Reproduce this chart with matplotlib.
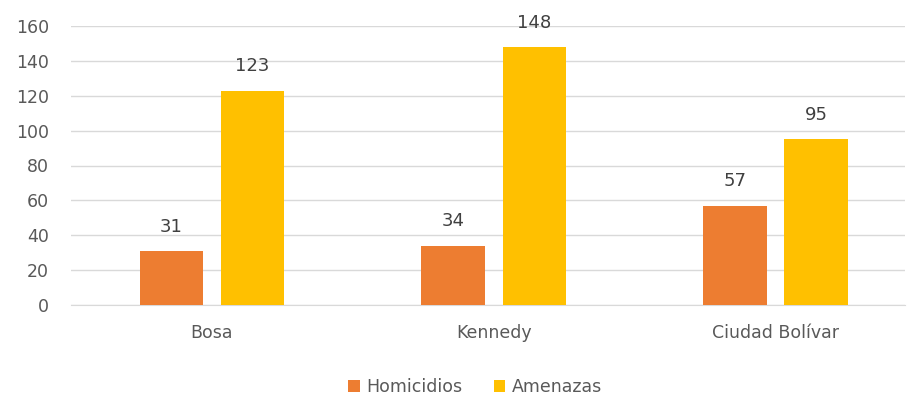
import matplotlib
matplotlib.use("Agg")
import matplotlib.pyplot as plt
import numpy as np

categories = ["Bosa", "Kennedy", "Ciudad Bolívar"]
homicidios = [31, 34, 57]
amenazas = [123, 148, 95]
yticks = [0, 20, 40, 60, 80, 100, 120, 140, 160]

plt.rcParams['font.family'] = ['DejaVu Sans']
txt = '#595959'

fig = plt.figure(figsize=(9.07, 4.20), dpi=100)
ax = fig.add_axes([71/907, (420-305)/420, (905-71)/907, (305-26)/420])

x = np.arange(len(categories))
w = 0.225
off = 0.144
b1 = ax.bar(x - off, homicidios, w, color='#ED7D31', label='Homicidios', zorder=3)
b2 = ax.bar(x + off, amenazas, w, color='#FFC000', label='Amenazas', zorder=3)
for bars in (b1, b2):
    for r in bars:
        ax.annotate(f"{int(r.get_height())}", (r.get_x() + r.get_width()/2, r.get_height()),
                    xytext=(0, 11), textcoords='offset points', ha='center', va='bottom',
                    fontsize=13, color='#404040')

ax.set_ylim(0, 160)
ax.set_yticks(yticks)
ax.set_xlim(-0.5, 2.46)
ax.set_xticks(x)
ax.set_xticklabels(categories)
ax.grid(axis='y', color='#D9D9D9', linewidth=1, zorder=0)
for s in ax.spines.values():
    s.set_visible(False)
ax.spines['bottom'].set_visible(True)
ax.spines['bottom'].set_color('#D9D9D9')
ax.tick_params(axis='both', length=0, labelsize=12.5, colors=txt)
ax.tick_params(axis='x', pad=14)
ax.tick_params(axis='y', pad=16)

ax.legend(loc='center', bbox_to_anchor=(0.485, -0.295), ncol=2, frameon=False,
          fontsize=12.5, labelcolor=txt, handlelength=0.65, handleheight=0.65,
          handletextpad=0.4, columnspacing=1.8)

fig.savefig("out.png", dpi=100)
